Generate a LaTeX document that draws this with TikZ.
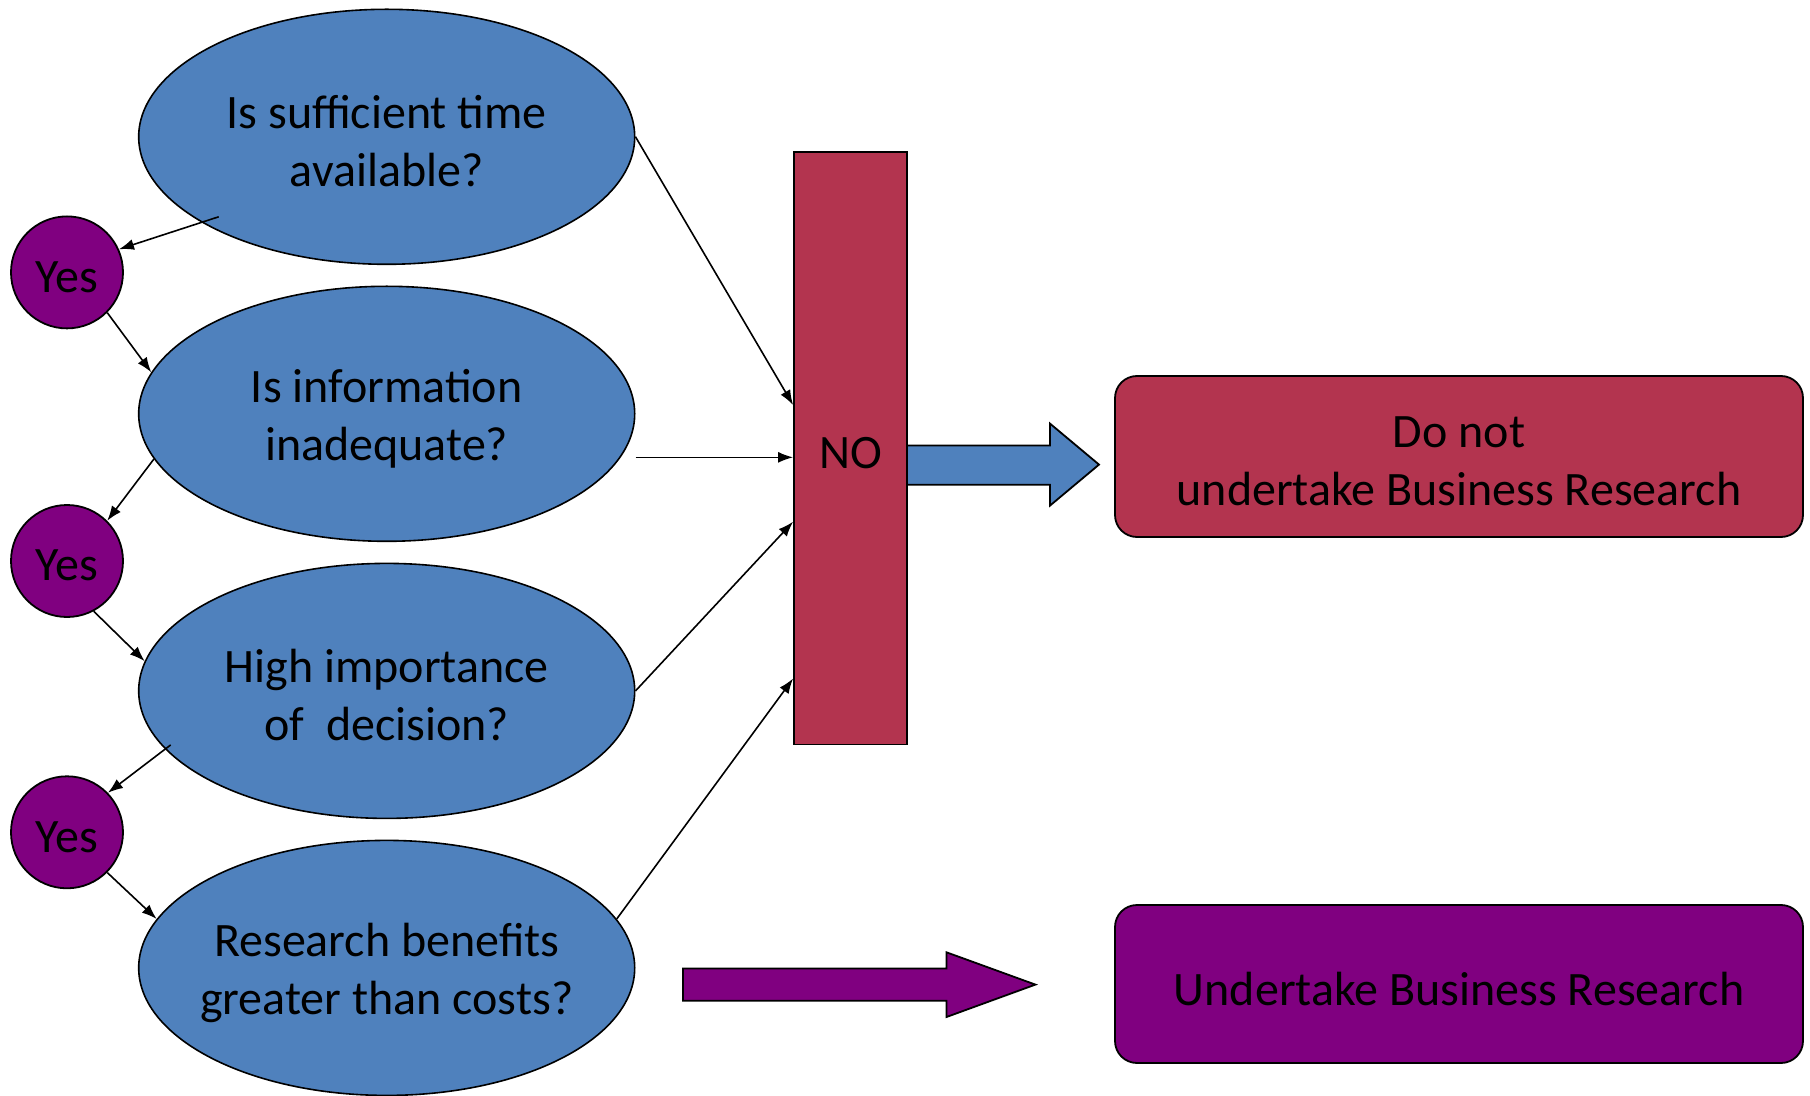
\documentclass[tikz,border=0pt]{standalone}
\usepackage{fontspec}
\setmainfont{Carlito}
\usetikzlibrary{arrows.meta,shapes.geometric}
\definecolor{qblue}{HTML}{4F81BD}
\definecolor{nored}{HTML}{B3344F}
\definecolor{yespurple}{HTML}{800080}

\begin{document}
\begin{tikzpicture}[x=0.5pt,y=-0.5pt,
    txt/.style={font=\fontsize{24}{29}\selectfont, align=center, yshift=-2.3pt},
    question/.style={ellipse, draw, line width=0.8pt, fill=qblue, minimum width=248pt, minimum height=127.5pt, inner sep=0pt},
    yesnode/.style={circle, draw, line width=0.9pt, fill=yespurple, minimum size=56pt, inner sep=0pt},
    outcome/.style={rectangle, rounded corners=11pt, draw, line width=0.9pt, minimum width=344pt},
    link/.style={-{Latex[length=7.5pt,width=5.5pt]}, line width=0.8pt}]
    \useasboundingbox (0,0) rectangle (1810,1096);

    % Questions
    \node[question, label={[txt]center:Is sufficient time\\available?}] (q1) at (386.7,136.8) {};
    \node[question, label={[txt]center:Is information\\inadequate?}] (q2) at (386.7,413.8) {};
    \node[question, label={[txt]center:High importance\\of\ \ decision?}] (q3) at (386.7,690.9) {};
    \node[question, label={[txt]center:Research benefits\\greater than costs?}] (q4) at (386.7,967.9) {};

    % Yes circles
    \node[yesnode, label={[txt]center:Yes}] (yes1) at (67,272.4) {};
    \node[yesnode, label={[txt]center:Yes}] (yes2) at (67,561) {};
    \node[yesnode, label={[txt]center:Yes}] (yes3) at (67,832.3) {};

    % NO bar
    \node[rectangle, draw, line width=0.9pt, fill=nored, minimum width=56.5pt, minimum height=296.25pt,
        label={[txt]center:NO}] (no) at (850.5,448.25) {};

    % Outcomes
    \node[outcome, fill=nored, minimum height=80.5pt,
        label={[txt]center:Do not\\undertake Business Research}] (stop) at (1459,456.5) {};
    \node[outcome, fill=yespurple, minimum height=79pt,
        label={[txt]center:Undertake Business Research}] (go) at (1459,984) {};

    % Yes chain
    \draw[link] ([shift={(-168,80)}]q1.center) -- (yes1.24);
    \draw[link] (yes1.-45) -- (q2.170);
    \draw[link] (q2.191) -- (yes2.45);
    \draw[link] (yes2.-62) -- (q3.173);
    \draw[link] ([shift={(-216,54)}]q3.center) -- (yes3.44);
    \draw[link] (yes3.-45) -- (q4.168);

    % No links
    \draw[link] (q1.east) -- (no.143);
    \draw[link] (q2.east |- no.189) -- (no.189);
    \draw[link] (q3.east) -- (no.232);
    \draw[link] (q4.12) -- (no.256);

    % Block arrows
    \draw[line width=0.9pt, fill=qblue] (907,445.6) -- (1050,445.6) -- (1050,423.6) -- (1099,464.6)
        -- (1050,505.6) -- (1050,484.8) -- (907,484.8) -- cycle;
    \draw[line width=0.9pt, fill=yespurple] (683,968.5) -- (946.5,968.5) -- (946.5,952.3) -- (1035.4,984.6)
        -- (946.5,1017) -- (946.5,1000.8) -- (683,1000.8) -- cycle;

\end{tikzpicture}
\end{document}
